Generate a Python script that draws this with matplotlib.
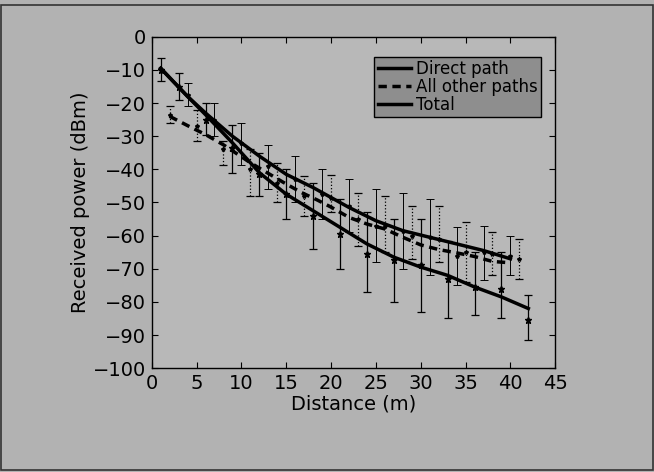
import matplotlib
matplotlib.use("Agg")
import matplotlib.pyplot as plt
import numpy as np

# fitted curves
fit_d_direct = [1, 4, 6, 9, 12, 15, 18, 21, 24, 27, 30, 33, 36, 39, 42]
fit_direct = [-9.5, -18, -23.5, -32, -41, -47.5, -52.5, -57.5, -62.5, -66.5, -69.5, -72, -75.5, -78.5, -82]
fit_d_total = [1, 4, 6, 9, 12, 15, 18, 22, 25, 28, 31, 34, 37, 40]
fit_total = [-9.5, -18, -23, -30, -36, -41.5, -45.5, -51.5, -55.5, -58.5, -60.5, -62.5, -64.5, -67]
fit_d_other = [2, 4, 6, 8, 11, 14.6, 16.7, 18.5, 20, 22, 24, 26, 28, 30, 32, 34, 36, 38, 40]
fit_other = [-24, -26.8, -29.5, -32.6, -38, -43.8, -47, -49.3, -51.4, -54.5, -56.5, -58, -60.5, -62.8, -64.2, -65.2, -66.3, -67.8, -68.2]

# measurements (mean, low, high)
d_direct = [1, 3, 6, 9, 12, 15, 18, 21, 24, 27, 30, 33, 36, 39, 42]
p_direct = [-10, -15, -25, -33.5, -41.5, -47.5, -54, -59.5, -65.5, -67.5, -69, -73, -75.5, -76, -85.5]
lo_direct = [-13.4, -19, -29.5, -41, -48, -55, -64, -70, -77, -80, -83, -85, -84, -85, -91.5]
hi_direct = [-6.4, -11, -20, -26.5, -35, -40, -44, -49, -53, -55, -55, -61.5, -65, -65, -78]

d_total = [4, 7, 10, 13, 16, 19, 22, 25, 28, 31, 34, 37, 40]
p_total = [-17.5, -25, -32, -39, -43, -47.5, -51, -57, -58.5, -60.5, -66, -65, -66]
lo_total = [-21, -30, -38.6, -46, -50, -55, -59, -68, -70, -72, -75, -73.5, -72]
hi_total = [-14, -20, -26, -32.5, -36, -40, -43, -46, -47, -49, -57.5, -57, -60]

d_other = [2, 5, 8, 11, 14, 17, 20, 23, 26, 29, 32, 35, 38, 41]
p_other = [-23.5, -27, -34, -40, -44, -48, -48.5, -55, -57, -60, -61, -65, -65.5, -67]
lo_other = [-26, -31.5, -38.6, -48, -50, -54, -53, -63, -65, -67, -68, -74, -72, -73]
hi_other = [-21, -22, -31.5, -34, -38, -42, -41.6, -47, -48, -51, -51, -56, -59, -61]

bg = '#b2b2b2'
plt.rcParams['font.family'] = 'DejaVu Sans'
fig = plt.figure(figsize=(6.54, 4.72), dpi=100, facecolor=bg)
ax = fig.add_axes([0.232, 0.22, 0.617, 0.702])
ax.set_facecolor('#b8b8b8')

def bars(x, m, lo, hi, ls, lw):
    m = np.array(m); lo = np.array(lo); hi = np.array(hi)
    eb = ax.errorbar(x, m, yerr=[m - lo, hi - m], fmt='none', ecolor='black',
                     elinewidth=lw, capsize=3, capthick=lw)
    for c in eb[2]:
        c.set_linestyle(ls)

bars(d_direct, p_direct, lo_direct, hi_direct, '-', 0.9)
bars(d_total, p_total, lo_total, hi_total, '-', 0.7)
bars(d_other, p_other, lo_other, hi_other, ':', 0.9)
ax.plot(d_direct, p_direct, ls='none', marker='*', ms=4.5, color='black')
ax.plot(d_total, p_total, ls='none', marker='*', ms=3, color='black')
ax.plot(d_other, p_other, ls='none', marker='*', ms=3, color='black')

ax.plot(fit_d_direct, fit_direct, color='black', lw=2.5, label='Direct path')
ax.plot(fit_d_other, fit_other, color='black', lw=2.5, ls=(0, (2.4, 1.6)), label='All other paths')
ax.plot(fit_d_total, fit_total, color='black', lw=2.5, label='Total')

ax.set_xlim(0, 45)
ax.set_ylim(-100, 0)
ax.set_xticks(np.arange(0, 46, 5))
ax.set_yticks(np.arange(-100, 1, 10))
ax.tick_params(direction='in', top=True, right=True, labelsize=14, length=4, pad=4)
ax.set_xlabel('Distance (m)', fontsize=14, labelpad=1)
ax.set_ylabel('Received power (dBm)', fontsize=14, labelpad=2)
for s in ax.spines.values():
    s.set_linewidth(1.0)

leg = ax.legend(loc='upper right', bbox_to_anchor=(0.965, 0.94), fontsize=12,
                frameon=True, fancybox=False, facecolor='#8e8e8e', edgecolor='black',
                framealpha=1, handlelength=2.0, handletextpad=0.3, borderpad=0.2,
                labelspacing=0.0, borderaxespad=0)
leg.get_frame().set_linewidth(1.0)

fig.patches.append(plt.Rectangle((0.002, 0.005), 0.996, 0.985, transform=fig.transFigure,
                                 fill=False, edgecolor='#333333', lw=1.2))

fig.savefig('out.png', dpi=100, facecolor=bg)
